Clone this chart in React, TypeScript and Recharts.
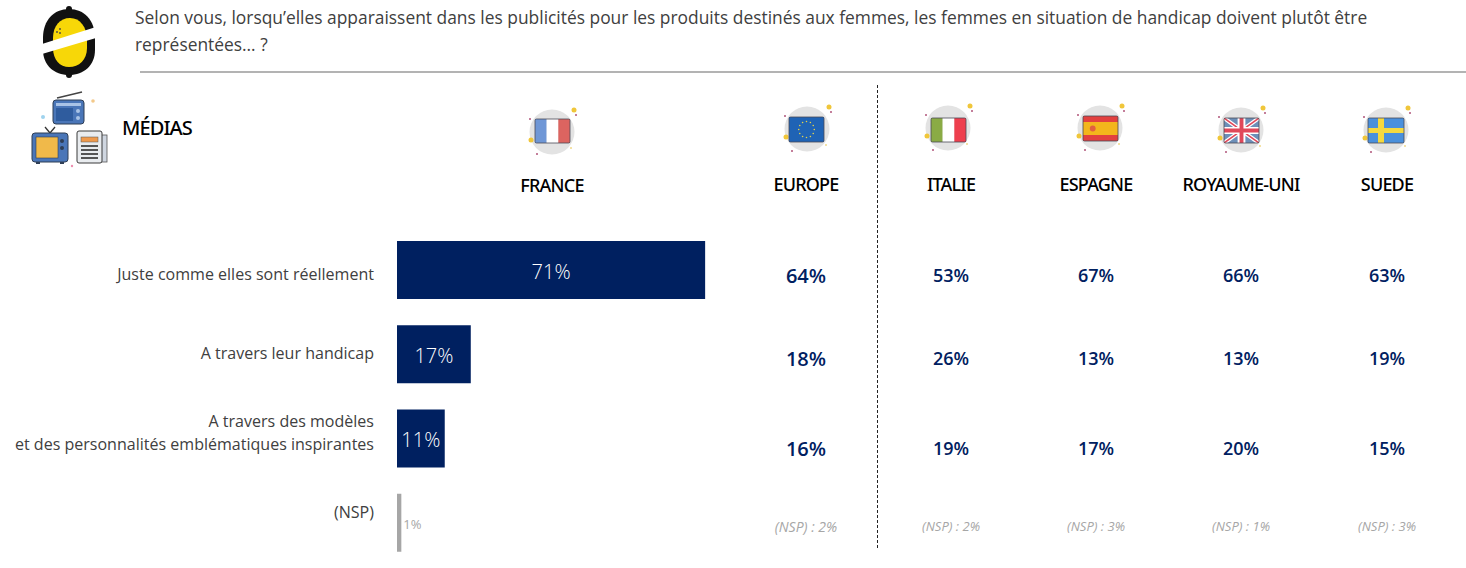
import { BarChart, Bar, XAxis, YAxis, Cell, LabelList } from "recharts";

const categories = [
  "Juste comme elles sont réellement",
  "A travers leur handicap",
  "A travers des modèles\net des personnalités emblématiques inspirantes",
  "(NSP)",
];
const franceValues = [71, 17, 11, 1];
const countries = ["EUROPE", "ITALIE", "ESPAGNE", "ROYAUME-UNI", "SUEDE"];
const europeValues = [64, 18, 16, 2];
const italieValues = [53, 26, 19, 2];
const espagneValues = [67, 13, 17, 3];
const royaumeValues = [66, 13, 20, 1];
const suedeValues = [63, 19, 15, 3];
const columns = [europeValues, italieValues, espagneValues, royaumeValues, suedeValues];

const question =
  "Selon vous, lorsqu’elles apparaissent dans les publicités pour les produits destinés aux femmes, les femmes en situation de handicap doivent plutôt être";
const question2 = "représentées… ?";

const NAVY = "#002060";
const GREY = "#a6a6a6";
const FONT = "'Open Sans', 'Noto Sans', sans-serif";
const HEAD = "'Noto Sans', 'Open Sans', sans-serif";

// layout of the text columns on the right
const columnX = [806, 951, 1096, 1241, 1387];
const rowY = [275, 358, 448, 525];
const tickY = [274, 353, 421, 512];

const chartData = categories.map((name, i) => ({ name, value: franceValues[i] }));

const CategoryTick = (props: any) => {
  const { x, payload, index } = props;
  const lines = String(payload.value).split("\n");
  return (
    <g>
      {lines.map((l: string, i: number) => (
        <text
          key={i}
          x={x}
          y={tickY[index] + i * 23}
          textAnchor="end"
          dominantBaseline="central"
          fontFamily={FONT}
          fontSize={16.05}
          fill="#404040"
        >
          {l}
        </text>
      ))}
    </g>
  );
};

const ValueLabel = (props: any) => {
  const { x, y, width, height, value } = props;
  if (value < 5) {
    return (
      <text x={x + width + 2} y={y + height / 2 + 1} dominantBaseline="central" fontFamily={FONT} fontSize={13} fill={GREY}>
        {value}%
      </text>
    );
  }
  return (
    <text
      x={x + width / 2}
      y={y + height / 2 + 1}
      textAnchor="middle"
      dominantBaseline="central"
      fontFamily={FONT}
      fontWeight={300}
      fontSize={20}
      fill="#ffffff"
    >
      {value}%
    </text>
  );
};

const Logo = () => (
  <g>
    <rect x={66} y={6} width={6} height={8} rx={3} fill="#111" />
    <rect x={66} y={70} width={6} height={8} rx={3} fill="#111" />
    <path d="M69 9 C84 9 95 20 95 38 L95 50 C95 65 84 75 69 75 C54 75 43 65 43 50 L43 38 C43 20 54 9 69 9 Z" fill="#111" />
    <path d="M70 18 C80 18 87 27 87 40 L87 48 C87 60 79 67 69 67 C60 67 53 60 53 48 L53 38 C53 26 60 18 70 18 Z" fill="#f7d708" />
    <polygon points="42,44 96,27 96,38 42,54" fill="#fff" />
    <circle cx={60} cy={29} r={0.9} fill="#444" />
    <circle cx={57} cy={32} r={0.9} fill="#444" />
    <circle cx={60} cy={33} r={0.9} fill="#444" />
  </g>
);

const MediaIcon = () => (
  <g>
    <line x1={57} y1={98} x2={82} y2={92} stroke="#444" strokeWidth={1.5} />
    <rect x={53} y={100} width={31} height={24} rx={3} fill="#4a76b8" stroke="#2f3e55" />
    <rect x={56} y={103} width={25} height={3} fill="#a9c3e6" />
    <rect x={56} y={108} width={17} height={13} fill="#2f5c9e" />
    <circle cx={78} cy={111} r={2} fill="#a9c3e6" />
    <circle cx={78} cy={118} r={2} fill="#a9c3e6" />
    <line x1={45} y1={127} x2={50} y2={133} stroke="#333" strokeWidth={1.3} />
    <line x1={55} y1={127} x2={50} y2={133} stroke="#333" strokeWidth={1.3} />
    <rect x={32} y={133} width={36} height={29} rx={3} fill="#4a76b8" stroke="#2f3e55" />
    <rect x={36} y={137} width={22} height={21} fill="#f0b94a" stroke="#2f3e55" strokeWidth={0.6} />
    <circle cx={62} cy={141} r={2} fill="#2f3e55" />
    <circle cx={62} cy={148} r={2} fill="#2f3e55" />
    <rect x={36} y={162} width={4} height={2} fill="#2f3e55" />
    <rect x={60} y={162} width={4} height={2} fill="#2f3e55" />
    <rect x={100} y={135} width={7} height={27} fill="#cfd6e0" stroke="#555" strokeWidth={0.8} />
    <rect x={77} y={131} width={25} height={32} rx={2} fill="#e9ecef" stroke="#3b3b3b" />
    <rect x={81} y={137} width={17} height={5} fill="#ee9a4d" stroke="#555" strokeWidth={0.5} />
    {[145, 149, 153, 157].map((y) => (
      <rect key={y} x={81} y={y} width={17} height={2} fill="#555" />
    ))}
    <circle cx={93} cy={101} r={1.8} fill="#f3c98a" />
    <circle cx={43} cy={117} r={2} fill="#9fd3ee" />
    <circle cx={72} cy={166} r={1.2} fill="#ee8fb0" />
  </g>
);

const Badge = ({ cx, cy, x, y, w, h, children }: any) => (
  <g>
    <circle cx={cx} cy={cy} r={22.5} fill="#e3e3e3" />
    <circle cx={cx + 22} cy={cy - 22} r={2.5} fill="#f0c63a" />
    <circle cx={cx + 24} cy={cy - 17} r={1} fill="#b0557a" />
    <circle cx={cx - 22} cy={cy - 13} r={1} fill="#b0557a" />
    <circle cx={cx - 21} cy={cy + 8} r={2.5} fill="#f0c63a" />
    <circle cx={cx - 15} cy={cy + 22} r={1} fill="#b0557a" />
    <circle cx={cx + 19} cy={cy + 16} r={1} fill="#f0d98a" />
    <svg x={x} y={y} width={w} height={h} viewBox="0 0 36 25" preserveAspectRatio="none">
      {children}
    </svg>
    <rect x={x} y={y} width={w} height={h} rx={1.5} fill="none" stroke="#4a4a55" strokeWidth={0.8} />
  </g>
);

const Flags = () => (
  <g>
    <Badge cx={552} cy={132} x={535} y={119} w={35} h={24}>
      <rect width={12} height={25} fill="#6f97d6" />
      <rect x={12} width={12} height={25} fill="#fff" />
      <rect x={24} width={12} height={25} fill="#dc6460" />
    </Badge>
    <Badge cx={807} cy={129} x={789} y={117} w={35} h={25}>
      <rect width={36} height={25} fill="#1f63b5" />
      {Array.from({ length: 12 }).map((_, i) => (
        <circle
          key={i}
          cx={18 + 8 * Math.cos((i * Math.PI) / 6)}
          cy={12.5 + 8 * Math.sin((i * Math.PI) / 6)}
          r={0.8}
          fill="#e6d34a"
        />
      ))}
    </Badge>
    <Badge cx={948} cy={128} x={931} y={118} w={35} h={24}>
      <rect width={12} height={25} fill="#8aab45" />
      <rect x={12} width={12} height={25} fill="#fff" />
      <rect x={24} width={12} height={25} fill="#ee3f4e" />
    </Badge>
    <Badge cx={1100} cy={128} x={1083} y={116} w={35} h={25}>
      <rect width={36} height={25} fill="#e2403f" />
      <rect y={6} width={36} height={13} fill="#f3b61c" />
      <circle cx={10} cy={12.5} r={3} fill="#e2603f" />
    </Badge>
    <Badge cx={1241} cy={130} x={1224} y={118} w={35} h={25}>
      <rect width={36} height={25} fill="#6d8fb8" />
      <line x1={0} y1={0} x2={36} y2={25} stroke="#fff" strokeWidth={4} />
      <line x1={36} y1={0} x2={0} y2={25} stroke="#fff" strokeWidth={4} />
      <line x1={0} y1={0} x2={36} y2={25} stroke="#e0485a" strokeWidth={1.5} />
      <line x1={36} y1={0} x2={0} y2={25} stroke="#e0485a" strokeWidth={1.5} />
      <rect x={14} width={8} height={25} fill="#fff" />
      <rect y={9} width={36} height={7} fill="#fff" />
      <rect x={16} width={4} height={25} fill="#e0485a" />
      <rect y={10.5} width={36} height={4} fill="#e0485a" />
    </Badge>
    <Badge cx={1386} cy={130} x={1368} y={118} w={36} h={25}>
      <rect width={36} height={25} fill="#4a90dc" />
      <rect x={10} width={6} height={25} fill="#f5d93f" />
      <rect y={10} width={36} height={5} fill="#f5d93f" />
    </Badge>
  </g>
);

const Overlay = () => (
  <svg width={1466} height={568} style={{ position: "absolute", left: 0, top: 0 }}>
    <Logo />
    <MediaIcon />
    <Flags />
    <text x={135} y={24} fontFamily={FONT} fontSize={17.4} fill="#404040">
      {question}
    </text>
    <text x={135} y={51} fontFamily={FONT} fontSize={17.4} fill="#404040">
      {question2}
    </text>
    <line x1={140} y1={72} x2={1466} y2={72} stroke="#b3b3b3" strokeWidth={2} />
    <text x={122} y={135} fontFamily={HEAD} fontWeight={500} fontSize={20} letterSpacing={-0.9} fill="#000">
      MÉDIAS
    </text>
    <text x={552} y={192} textAnchor="middle" fontFamily={HEAD} fontWeight={500} fontSize={18} letterSpacing={-0.8} fill="#000">
      FRANCE
    </text>
    {countries.map((c, i) => (
      <text key={c} x={columnX[i]} y={191} textAnchor="middle" fontFamily={HEAD} fontWeight={500} fontSize={18} letterSpacing={-0.8} fill="#000">
        {c}
      </text>
    ))}
    <line x1={877.5} y1={85} x2={877.5} y2={550} stroke="#222" strokeWidth={1} strokeDasharray="3 2" />
    {columns.map((vals, c) =>
      vals.map((v, r) =>
        r < 3 ? (
          <text
            key={`${c}-${r}`}
            x={columnX[c]}
            y={rowY[r]}
            textAnchor="middle"
            dominantBaseline="central"
            fontFamily={FONT}
            fontWeight={600}
            fontSize={c === 0 ? 20 : 18}
            fill={NAVY}
          >
            {v}%
          </text>
        ) : (
          <text
            key={`${c}-${r}`}
            x={columnX[c]}
            y={rowY[r] + 1}
            textAnchor="middle"
            dominantBaseline="central"
            fontFamily={FONT}
            fontStyle="italic"
            fontSize={c === 0 ? 14 : 13}
            fill={GREY}
          >
            (NSP) : {v}%
          </text>
        )
      )
    )}
  </svg>
);

export default function App() {
  return (
    <div style={{ position: "absolute", left: 0, top: 0, width: 1466, height: 568, background: "#fff", overflow: "hidden" }}>
      <style>{"body{margin:0}"}</style>
      <div style={{ position: "absolute", left: 0, top: 0 }}>
        <BarChart
          width={1466}
          height={568}
          data={chartData}
          layout="vertical"
          margin={{ top: 228, right: 635, bottom: 3, left: 0 }}
          barCategoryGap={13}
        >
          <XAxis type="number" domain={[0, 100]} hide />
          <YAxis
            type="category"
            dataKey="name"
            width={397}
            axisLine={false}
            tickLine={false}
            interval={0}
            tickMargin={0}
            tick={(p: any) => <CategoryTick {...p} x={374} />}
          />
          <Bar dataKey="value" isAnimationActive={false}>
            {chartData.map((d, i) => (
              <Cell key={d.name} fill={i === 3 ? GREY : NAVY} />
            ))}
            <LabelList dataKey="value" content={ValueLabel} />
          </Bar>
        </BarChart>
      </div>
      <Overlay />
    </div>
  );
}
